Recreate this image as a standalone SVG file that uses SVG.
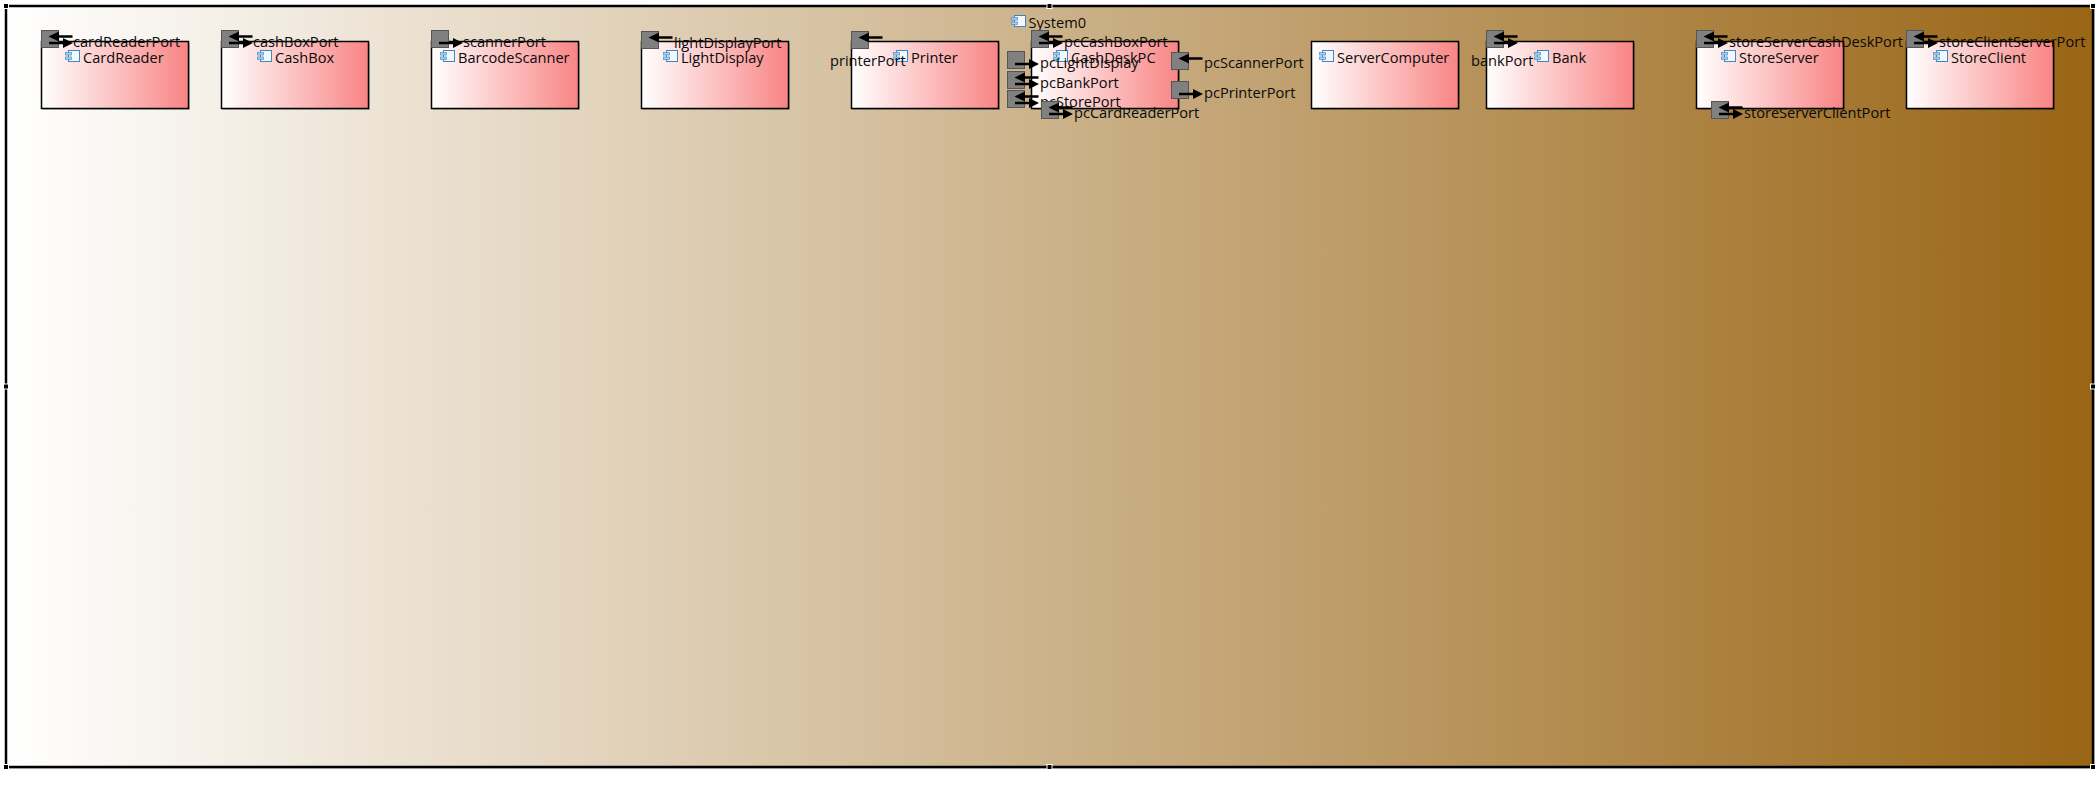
<svg xmlns="http://www.w3.org/2000/svg" width="2099" height="790" viewBox="0 0 2099 790">
<style>
text{font-family:"Open Sans","Noto Sans","Liberation Sans",sans-serif;font-size:14.6px;fill:#0a0a0a}
.box{stroke:#000;stroke-width:1.5;fill:url(#boxGrad)}
.shadow{fill:#000;opacity:.22}
.port{fill:#808080;stroke:#555;stroke-width:1}
.handle{fill:#000;stroke:#fff;stroke-width:1}
.arrow{stroke:#000;stroke-width:2.500;fill:none}
.tip{fill:#000}
</style>
<defs>
<linearGradient id="bgGrad" x1="0" x2="1" y1="0" y2="0"><stop offset="0" stop-color="#fff"/><stop offset="1" stop-color="#996515"/></linearGradient>
<linearGradient id="boxGrad" x1="0" x2="1" y1="0" y2="0"><stop offset="0" stop-color="#fff"/><stop offset="1" stop-color="#f98484"/></linearGradient>
<g id="icon"><rect x="3.500" y="0.500" width="11" height="11" fill="#f2f8fd" stroke="#3f86c0"/><rect x="0.500" y="2.500" width="6" height="2.500" fill="#a9cde8" stroke="#5a9acb" stroke-width=".8"/><rect x="0.500" y="7" width="6" height="2.500" fill="#a9cde8" stroke="#5a9acb" stroke-width=".8"/></g>
<g id="inArrow"><path class="arrow" d="M31.500 6.500H16"/><path class="tip" d="M7.500 6.500L18 1.500V11.500Z"/></g>
<g id="outArrow"><path class="arrow" d="M8 13H23"/><path class="tip" d="M32 13L22 8V18Z"/></g>
<rect id="p" class="port" x="0.500" y="0.500" width="17" height="17"/>
</defs>

<rect x="8" y="8" width="2087" height="761" fill="#000" opacity=".18"/>
<rect id="frame" x="6" y="6" width="2087" height="761" fill="url(#bgGrad)" stroke="#000" stroke-width="2.500"/>
<g id="handles">
<rect class="handle" x="3.500" y="3.500" width="5" height="5"/><rect class="handle" x="1047" y="3.500" width="5" height="5"/><rect class="handle" x="2090.500" y="3.500" width="5" height="5"/>
<rect class="handle" x="3.500" y="384" width="5" height="5"/><rect class="handle" x="2090.500" y="384" width="5" height="5"/>
<rect class="handle" x="3.500" y="764.500" width="5" height="5"/><rect class="handle" x="1047" y="764.500" width="5" height="5"/><rect class="handle" x="2090.500" y="764.500" width="5" height="5"/>
</g>
<g id="System0"><use href="#icon" x="1011" y="15"/><text x="1028.500" y="28">System0</text></g>

<g id="connectors"></g>

<g id="CardReader"><rect class="shadow" x="43" y="43" width="147" height="67"/><rect class="box" x="41.500" y="41.500" width="147" height="67"/><use href="#icon" x="65" y="50"/><text x="83" y="63">CardReader</text>
<g id="cardReaderPort"><use href="#p" x="41" y="30"/><use href="#inArrow" x="41" y="30"/><use href="#outArrow" x="41" y="30"/><text x="73" y="47">cardReaderPort</text></g></g>

<g id="CashBox"><rect class="shadow" x="223" y="43" width="147" height="67"/><rect class="box" x="221.500" y="41.500" width="147" height="67"/><use href="#icon" x="257" y="50"/><text x="275" y="63">CashBox</text>
<g id="cashBoxPort"><use href="#p" x="221" y="30"/><use href="#inArrow" x="221" y="30"/><use href="#outArrow" x="221" y="30"/><text x="253" y="47">cashBoxPort</text></g></g>

<g id="BarcodeScanner"><rect class="shadow" x="433" y="43" width="147" height="67"/><rect class="box" x="431.500" y="41.500" width="147" height="67"/><use href="#icon" x="440" y="50"/><text x="458" y="63">BarcodeScanner</text>
<g id="scannerPort"><use href="#p" x="431" y="30"/><use href="#outArrow" x="431" y="30"/><text x="463" y="47">scannerPort</text></g></g>

<g id="LightDisplay"><rect class="shadow" x="643" y="43" width="147" height="67"/><rect class="box" x="641.500" y="41.500" width="147" height="67"/><use href="#icon" x="663" y="50"/><text x="681" y="63">LightDisplay</text>
<g id="lightDisplayPort"><use href="#p" x="641" y="31"/><use href="#inArrow" x="641" y="31"/><text x="674" y="48">lightDisplayPort</text></g></g>

<g id="Printer"><rect class="shadow" x="853" y="43" width="147" height="67"/><rect class="box" x="851.500" y="41.500" width="147" height="67"/><use href="#icon" x="893" y="50"/><text x="911" y="63">Printer</text>
<g id="printerPort"><use href="#p" x="851" y="31"/><use href="#inArrow" x="851" y="31"/><text x="830" y="66">printerPort</text></g></g>

<g id="CashDeskPC"><rect class="shadow" x="1033" y="43" width="147" height="67"/><rect class="box" x="1031.500" y="41.500" width="147" height="67"/><use href="#icon" x="1053" y="50"/><text x="1071" y="63">CashDeskPC</text>
<g id="pcCashBoxPort"><use href="#p" x="1031" y="30"/><use href="#inArrow" x="1031" y="30"/><use href="#outArrow" x="1031" y="30"/><text x="1064" y="47">pcCashBoxPort</text></g>
<g id="pcLightDisplay"><use href="#p" x="1007" y="51"/><use href="#outArrow" x="1007" y="51"/><text x="1040" y="68">pcLightDisplay</text></g>
<g id="pcBankPort"><use href="#p" x="1007" y="71"/><use href="#inArrow" x="1007" y="71"/><use href="#outArrow" x="1007" y="71"/><text x="1040" y="88">pcBankPort</text></g>
<g id="pcStorePort"><use href="#p" x="1007" y="90"/><use href="#inArrow" x="1007" y="90"/><use href="#outArrow" x="1007" y="90"/><text x="1040" y="107">pcStorePort</text></g>
<g id="pcCardReaderPort"><use href="#p" x="1041" y="101"/><use href="#inArrow" x="1041" y="101"/><use href="#outArrow" x="1041" y="101"/><text x="1074" y="118">pcCardReaderPort</text></g>
<g id="pcScannerPort"><use href="#p" x="1171" y="52"/><use href="#inArrow" x="1171" y="52"/><text x="1204" y="68">pcScannerPort</text></g>
<g id="pcPrinterPort"><use href="#p" x="1171" y="81"/><use href="#outArrow" x="1171" y="81"/><text x="1204" y="98">pcPrinterPort</text></g></g>

<g id="ServerComputer"><rect class="shadow" x="1313" y="43" width="147" height="67"/><rect class="box" x="1311.500" y="41.500" width="147" height="67"/><use href="#icon" x="1319" y="50"/><text x="1337" y="63">ServerComputer</text></g>

<g id="Bank"><rect class="shadow" x="1488" y="43" width="147" height="67"/><rect class="box" x="1486.500" y="41.500" width="147" height="67"/><use href="#icon" x="1534" y="50"/><text x="1552" y="63">Bank</text>
<g id="bankPort"><use href="#p" x="1486" y="30"/><use href="#inArrow" x="1486" y="30"/><use href="#outArrow" x="1486" y="30"/><text x="1471" y="66">bankPort</text></g></g>

<g id="StoreServer"><rect class="shadow" x="1698" y="43" width="147" height="67"/><rect class="box" x="1696.500" y="41.500" width="147" height="67"/><use href="#icon" x="1721" y="50"/><text x="1739" y="63">StoreServer</text>
<g id="storeServerCashDeskPort"><use href="#p" x="1696" y="30"/><use href="#inArrow" x="1696" y="30"/><use href="#outArrow" x="1696" y="30"/><text x="1729" y="47">storeServerCashDeskPort</text></g>
<g id="storeServerClientPort"><use href="#p" x="1711" y="101"/><use href="#inArrow" x="1711" y="101"/><use href="#outArrow" x="1711" y="101"/><text x="1744" y="118">storeServerClientPort</text></g></g>

<g id="StoreClient"><rect class="shadow" x="1908" y="43" width="147" height="67"/><rect class="box" x="1906.500" y="41.500" width="147" height="67"/><use href="#icon" x="1933" y="50"/><text x="1951" y="63">StoreClient</text>
<g id="storeClientServerPort"><use href="#p" x="1906" y="30"/><use href="#inArrow" x="1906" y="30"/><use href="#outArrow" x="1906" y="30"/><text x="1939" y="47">storeClientServerPort</text></g></g>
</svg>
